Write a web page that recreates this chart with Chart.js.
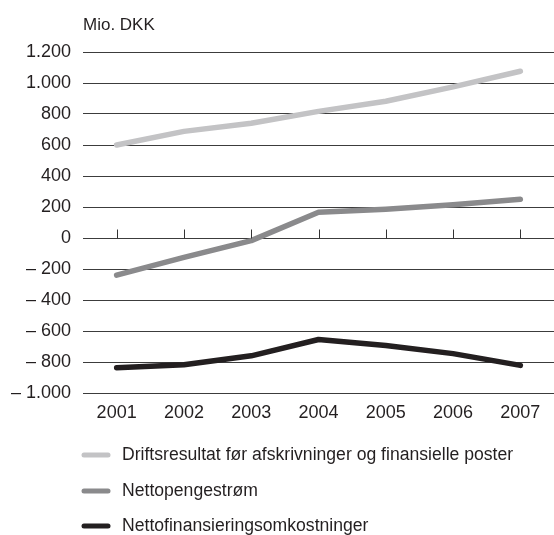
<!DOCTYPE html>
<html>
<head>
<meta charset="utf-8">
<script src="https://cdn.jsdelivr.net/npm/chart.js@4/dist/chart.umd.min.js"></script>
<style>
  html, body { margin: 0; padding: 0; background: #fff; }
  #wrap { width: 554px; height: 535px; }
</style>
</head>
<body>
<div id="wrap"><canvas id="c" width="554" height="535"></canvas></div>
<script>
// Years on the category axis
const years = ['2001', '2002', '2003', '2004', '2005', '2006', '2007'];

// Series (Mio. DKK)
const driftsresultat = [600, 688, 740, 817, 882, 975, 1076];
const nettopengestrom = [-240, -125, -17, 166, 186, 214, 250];
const nettofinansiering = [-837, -818, -760, -655, -693, -746, -822];

const seriesNames = [
  'Driftsresultat før afskrivninger og finansielle poster',
  'Nettopengestrøm',
  'Nettofinansieringsomkostninger'
];
const seriesColors = ['#c3c3c5', '#8a8a8c', '#231f20'];

const unitLabel = 'Mio. DKK';
const FONT = '"Liberation Sans", Arial, sans-serif';
const TEXT = '#231f20';

// Danish number format: thousands with '.', negatives with en dash
function fmt(v) {
  const abs = Math.abs(v).toString().replace(/\B(?=(\d{3})+(?!\d))/g, '.');
  return v < 0 ? '\u2013 ' + abs : abs;
}

// Short tick marks on the zero line, the unit label and the stacked legend
const extras = {
  id: 'extras',
  afterDatasetsDraw(chart) {
    const ctx = chart.ctx;
    const x = chart.scales.x, y = chart.scales.y;
    const y0 = Math.round(y.getPixelForValue(0)) + 0.5;
    ctx.save();
    ctx.strokeStyle = '#333';
    ctx.lineWidth = 1;
    years.forEach((_, i) => {
      const px = Math.round(x.getPixelForValue(i)) + 0.5;
      ctx.beginPath();
      ctx.moveTo(px, y0 - 9);
      ctx.lineTo(px, y0);
      ctx.stroke();
    });
    ctx.restore();
  },
  afterDraw(chart) {
    const ctx = chart.ctx;
    const area = chart.chartArea;
    ctx.save();
    ctx.fillStyle = TEXT;
    ctx.font = '17px ' + FONT;
    ctx.textBaseline = 'middle';
    ctx.textAlign = 'left';
    ctx.fillText(unitLabel, area.left, 25);

    ctx.font = '17.6px ' + FONT;
    const rows = [62, 98, 133];
    seriesNames.forEach((name, i) => {
      const cy = area.bottom + rows[i];
      ctx.strokeStyle = seriesColors[i];
      ctx.lineWidth = 5;
      ctx.lineCap = 'round';
      ctx.beginPath();
      ctx.moveTo(84, cy);
      ctx.lineTo(108, cy);
      ctx.stroke();
      ctx.fillStyle = TEXT;
      ctx.fillText(name, 122, cy);
    });
    ctx.restore();
  }
};

const datasets = [driftsresultat, nettopengestrom, nettofinansiering].map((d, i) => ({
  label: seriesNames[i],
  data: d,
  borderColor: seriesColors[i],
  backgroundColor: seriesColors[i],
  borderWidth: 5.5,
  borderCapStyle: 'round',
  borderJoinStyle: 'round',
  pointRadius: 0,
  tension: 0,
  fill: false
}));

new Chart(document.getElementById('c'), {
  type: 'line',
  data: { labels: years, datasets },
  options: {
    responsive: false,
    animation: false,
    devicePixelRatio: 1,
    layout: { padding: { top: 52, right: 0, bottom: 0, left: 0 } },
    plugins: {
      legend: { display: false },
      tooltip: { enabled: false },
      title: { display: false }
    },
    scales: {
      x: {
        offset: true,
        grid: { display: false, drawTicks: false },
        border: { display: false },
        ticks: {
          color: TEXT,
          font: { family: FONT, size: 18 },
          padding: 9,
          maxRotation: 0
        },
        afterFit(s) { s.height = 142; }
      },
      y: {
        min: -1000,
        max: 1200,
        grid: { color: '#3c3c3c', lineWidth: 1, drawTicks: false },
        border: { display: false },
        ticks: {
          stepSize: 200,
          color: TEXT,
          font: { family: FONT, size: 18 },
          padding: 12,
          callback: v => fmt(v)
        },
        afterFit(s) { s.width = 83; }
      }
    }
  },
  plugins: [extras]
});
</script>
</body>
</html>
